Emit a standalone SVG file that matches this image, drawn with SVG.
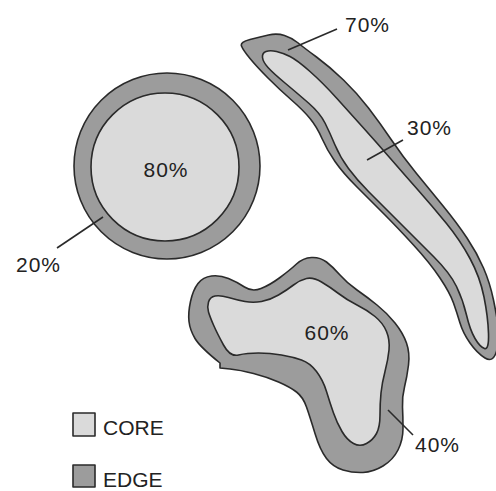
<svg xmlns="http://www.w3.org/2000/svg" width="496" height="491" viewBox="0 0 496 491">
<style>
.edge{fill:#9c9c9c;stroke:#2a2a2a;stroke-width:1.6;stroke-linejoin:round}
.core{fill:#dadada;stroke:#2a2a2a;stroke-width:1.6;stroke-linejoin:round}
.lead{stroke:#2a2a2a;stroke-width:1.6;fill:none}
text{font-family:"Liberation Sans",Arial,sans-serif;font-size:21px;fill:#222;letter-spacing:1px}
</style>
<rect width="496" height="491" fill="#fff"/>
<g id="circle">
<circle class="edge" cx="167" cy="166" r="93"/>
<circle class="core" cx="165" cy="167" r="74"/>
<text x="166" y="177" text-anchor="middle">80%</text>
</g>
<g id="elongated">
<path class="edge" d="M241.5,46 Q240,42 250,39.5 Q260,37 268.5,35 Q277,33 284.5,35.5 Q292,38 297.5,42.5 Q303,47 316.5,57 Q330,67 343.5,80 Q357,93 368.5,108 Q380,123 391.5,140 Q403,157 416.5,173.5 Q430,190 443.5,206.5 Q457,223 467,238 Q477,253 483.5,268 Q490,283 493.5,300 Q497,317 498.5,328.5 Q500,340 496.5,351.5 Q493,363 485,358 Q477,353 470,343 Q463,333 460,323 Q457,313 453.5,303 Q450,293 440,278 Q430,263 413.5,245 Q397,227 383.5,213.5 Q370,200 356.5,186.5 Q343,173 335,161.5 Q327,150 322,138.5 Q317,127 310,118.5 Q303,110 291.5,100 Q280,90 268.5,78.5 Q257,67 250,58.5 Q243,50 241.5,46 Z"/>
<path class="core" d="M262.5,57.5 Q262,53 266,51.5 Q270,50 276.5,51.5 Q283,53 290,56.5 Q297,60 310,71.5 Q323,83 336.5,98 Q350,113 363.5,128 Q377,143 390,158 Q403,173 418,190 Q433,207 446.5,223.5 Q460,240 470,258.5 Q480,277 484,297 Q488,317 488.5,333.5 Q489,350 484.5,348.5 Q480,347 475,338.5 Q470,330 466.5,315 Q463,300 456.5,286.5 Q450,273 433.5,256.5 Q417,240 398.5,221.5 Q380,203 368.5,191.5 Q357,180 348.5,168.5 Q340,157 335,145 Q330,133 325,123 Q320,113 308.5,103 Q297,93 285,83 Q273,73 268,67.5 Q263,62 262.5,57.5 Z"/>
</g>
<g id="blob">
<path class="edge" d="M189,321.5 Q188,313 190.5,301.5 Q193,290 198,283.5 Q203,277 211.5,276 Q220,275 228.5,278.5 Q237,282 244.5,287 Q252,292 261,288.5 Q270,285 280,277.5 Q290,270 296.5,264 Q303,258 311.5,257.5 Q320,257 326.5,262 Q333,267 340,275 Q347,283 357,290 Q367,297 377,305 Q387,313 395,323 Q403,333 406.5,343 Q410,353 408.5,365 Q407,377 404.5,387 Q402,397 402.5,407 Q403,417 403,428.5 Q403,440 398,450 Q393,460 383,466 Q373,472 363,472.5 Q353,473 343,470 Q333,467 326.5,458.5 Q320,450 315,433.5 Q310,417 306.5,407 Q303,397 296.5,392 Q290,387 278.5,382 Q267,377 253.5,373.5 Q240,370 230,369 L220,368 L220,363 Q200,347 195,338.5 Q190,330 189,321.5 Z"/>
<path class="core" d="M208.5,312 Q207,307 208.5,302 Q210,297 215,296 Q220,295 228.5,297.5 Q237,300 245,301.5 Q253,303 261.5,301.5 Q270,300 278.5,295 Q287,290 293.5,285 Q300,280 306.5,278.5 Q313,277 321.5,282 Q330,287 338.5,293.5 Q347,300 357,305 Q367,310 375,316.5 Q383,323 386.5,331.5 Q390,340 389,350 Q388,360 385,371.5 Q382,383 381,393 Q380,403 380,415 Q380,427 376.5,433.5 Q373,440 366.5,443.5 Q360,447 353.5,443.5 Q347,440 342,431.5 Q337,423 333.5,413 Q330,403 326.5,391.5 Q323,380 316.5,371.5 Q310,363 301.5,360 Q293,357 281.5,355 Q270,353 258.5,353 Q247,353 238.5,355 Q230,357 223.5,345 Q217,333 213.5,325 Q210,317 208.5,312 Z"/>
<text x="327" y="340" text-anchor="middle">60%</text>
</g>
<g id="connectors">
<line class="lead" x1="57" y1="248" x2="103" y2="217"/>
<line class="lead" x1="337" y1="29" x2="288" y2="50"/>
<line class="lead" x1="403" y1="140" x2="367" y2="160"/>
<line class="lead" x1="388" y1="410" x2="413" y2="435"/>
</g>
<g id="labels">
<text x="16" y="272">20%</text>
<text x="345" y="32">70%</text>
<text x="407" y="135">30%</text>
<text x="415" y="452">40%</text>
</g>
<g id="legend-core">
<rect class="core" x="73" y="413" width="22" height="23"/>
<text x="103" y="435" style="letter-spacing:0">CORE</text>
</g>
<g id="legend-edge">
<rect class="edge" x="73" y="465" width="22" height="22"/>
<text x="103" y="487" style="letter-spacing:0">EDGE</text>
</g>
</svg>
